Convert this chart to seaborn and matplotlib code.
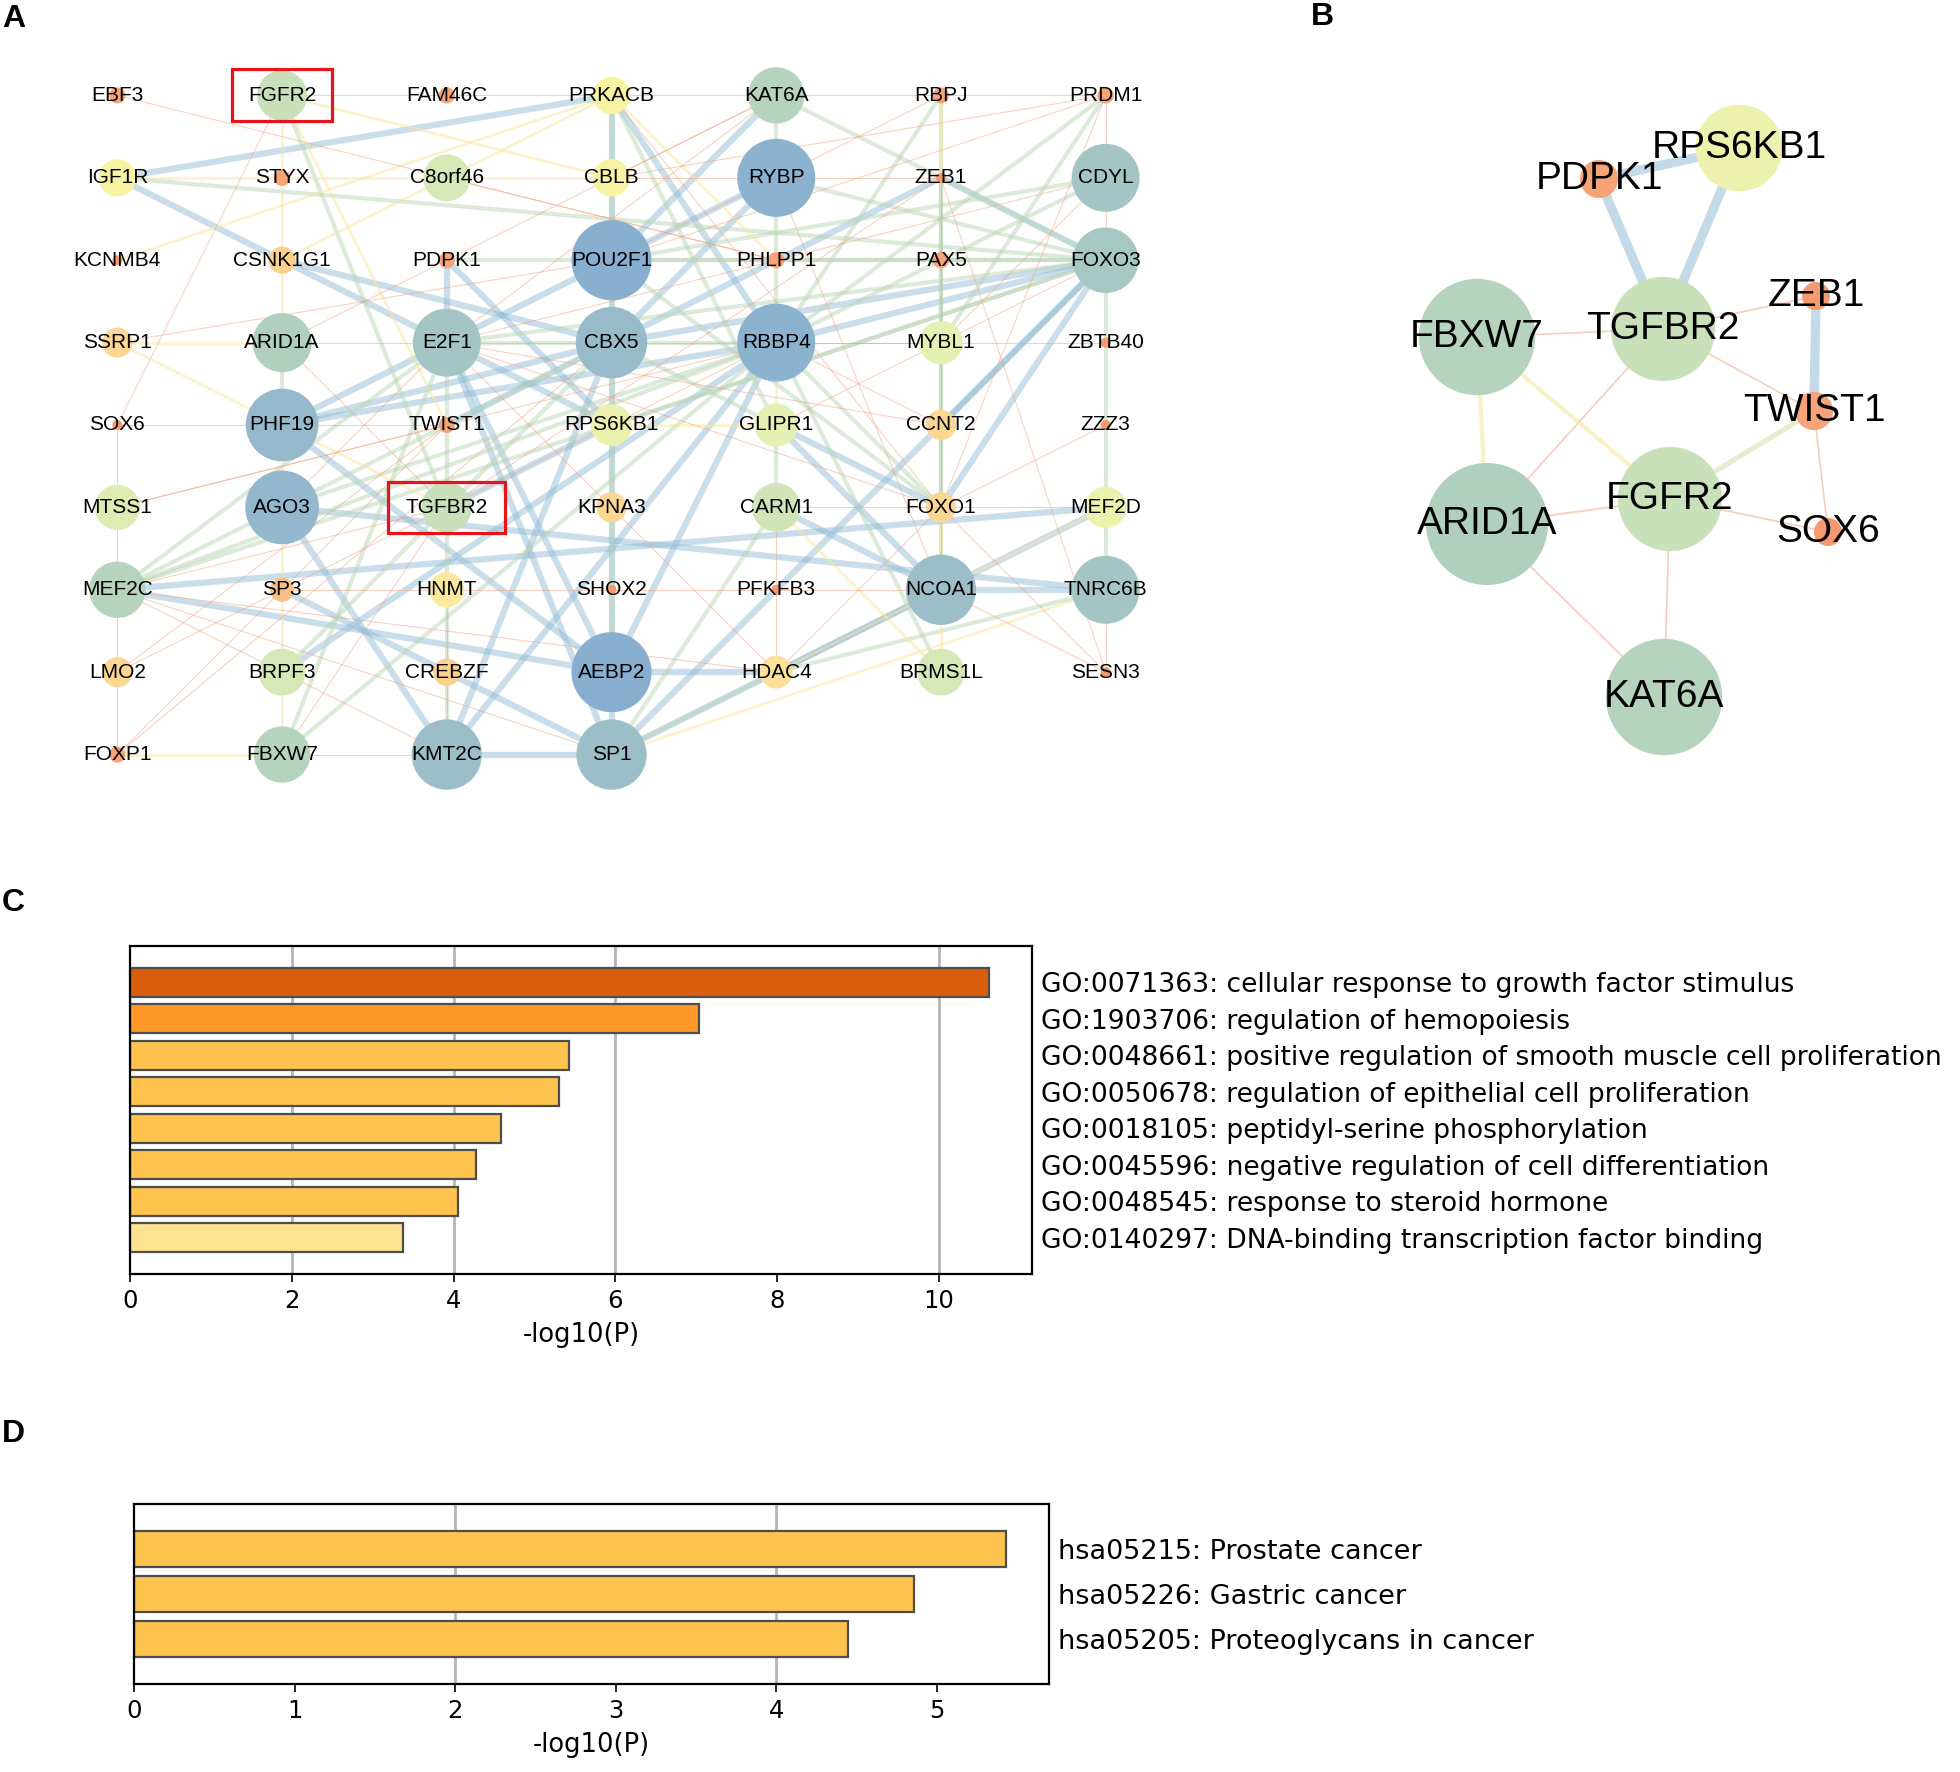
import matplotlib
matplotlib.use("Agg")
import numpy as np
import pandas as pd
import matplotlib.pyplot as plt
import seaborn as sns
from matplotlib.colors import LinearSegmentedColormap
from matplotlib.patches import Rectangle

# ---------------- data ----------------
# panel A: genes laid out row by row on a 7-column grid
genes_a = [
    "EBF3", "FGFR2", "FAM46C", "PRKACB", "KAT6A", "RBPJ", "PRDM1",
    "IGF1R", "STYX", "C8orf46", "CBLB", "RYBP", "ZEB1", "CDYL",
    "KCNMB4", "CSNK1G1", "PDPK1", "POU2F1", "PHLPP1", "PAX5", "FOXO3",
    "SSRP1", "ARID1A", "E2F1", "CBX5", "RBBP4", "MYBL1", "ZBTB40",
    "SOX6", "PHF19", "TWIST1", "RPS6KB1", "GLIPR1", "CCNT2", "ZZZ3",
    "MTSS1", "AGO3", "TGFBR2", "KPNA3", "CARM1", "FOXO1", "MEF2D",
    "MEF2C", "SP3", "HNMT", "SHOX2", "PFKFB3", "NCOA1", "TNRC6B",
    "LMO2", "BRPF3", "CREBZF", "AEBP2", "HDAC4", "BRMS1L", "SESN3",
    "FOXP1", "FBXW7", "KMT2C", "SP1",
]
degree_a = [
    2, 16, 2, 9, 20, 2, 2,
    9, 2, 14, 9, 38, 1, 29,
    1, 5, 2, 40, 2, 2, 27,
    6, 22, 29, 32, 38, 12, 1,
    1, 33, 2, 11, 12, 6, 1,
    13, 34, 16, 6, 15, 6, 11,
    20, 4, 8, 1, 1, 31, 29,
    6, 14, 5, 40, 7, 14, 1,
    2, 20, 31, 31,
]
highlight_a = ["FGFR2", "TGFBR2"]

# interaction score per edge (low = orange/thin, high = blue/thick)
edges_a = [
    ("FGFR2", "FAM46C", .15), ("FAM46C", "PRKACB", .15), ("PRKACB", "KAT6A", .15),
    ("KAT6A", "RBPJ", .15), ("RBPJ", "PRDM1", .15), ("EBF3", "PHLPP1", .15),
    ("IGF1R", "STYX", .4), ("STYX", "C8orf46", .4), ("C8orf46", "CBLB", .4),
    ("CBLB", "RYBP", .15), ("RYBP", "ZEB1", .15),
    ("PDPK1", "POU2F1", .6), ("POU2F1", "PHLPP1", .6), ("PHLPP1", "PAX5", .6), ("PAX5", "FOXO3", .6),
    ("SSRP1", "ARID1A", .4), ("ARID1A", "E2F1", .15), ("E2F1", "CBX5", .6), ("CBX5", "RBBP4", .6),
    ("RBBP4", "MYBL1", .15), ("MYBL1", "ZBTB40", .15),
    ("SOX6", "TWIST1", .15), ("PHF19", "RBBP4", .9), ("PHF19", "CBX5", .9),
    ("CARM1", "FOXO1", .15), ("FOXO1", "MEF2D", .15),
    ("HNMT", "SP3", .15), ("HNMT", "SHOX2", .15), ("FOXP1", "FBXW7", .4), ("FBXW7", "KMT2C", .15),
    ("NCOA1", "TNRC6B", .9),
    ("SOX6", "MTSS1", .15), ("MTSS1", "MEF2C", .15), ("MEF2C", "LMO2", .15), ("LMO2", "FOXP1", .15),
    ("FGFR2", "STYX", .4), ("STYX", "CSNK1G1", .4), ("CSNK1G1", "ARID1A", .4), ("ARID1A", "PHF19", .6),
    ("PHF19", "AGO3", .4), ("AGO3", "SP3", .4), ("SP3", "BRPF3", .4), ("BRPF3", "FBXW7", .4),
    ("PDPK1", "E2F1", .9), ("E2F1", "TWIST1", .6), ("TWIST1", "TGFBR2", .6),
    ("HNMT", "CREBZF", .15), ("CREBZF", "KMT2C", .15),
    ("PRKACB", "CBLB", .6), ("CBLB", "POU2F1", .6), ("POU2F1", "CBX5", .6), ("CBX5", "RPS6KB1", .6),
    ("RPS6KB1", "KPNA3", .6), ("KPNA3", "SHOX2", .6), ("SHOX2", "AEBP2", .6), ("AEBP2", "SP1", .9),
    ("KAT6A", "RYBP", .6), ("RYBP", "PHLPP1", .6), ("PHLPP1", "RBBP4", .6), ("RBBP4", "GLIPR1", .4),
    ("GLIPR1", "CARM1", .6), ("CARM1", "PFKFB3", .15), ("PFKFB3", "HDAC4", .15),
    ("RBPJ", "ZEB1", .4), ("ZEB1", "PAX5", .6), ("PAX5", "MYBL1", .6), ("MYBL1", "CCNT2", .6),
    ("CCNT2", "FOXO1", .6), ("FOXO1", "NCOA1", .15),
    ("PRDM1", "CDYL", .15), ("CDYL", "FOXO3", .15), ("FOXO3", "ZBTB40", .6), ("ZBTB40", "ZZZ3", .6),
    ("ZZZ3", "MEF2D", .6), ("MEF2D", "TNRC6B", .6), ("TNRC6B", "SESN3", .15),
    ("IGF1R", "PRKACB", .9), ("IGF1R", "FOXO3", .6), ("IGF1R", "RPS6KB1", .9), ("KCNMB4", "PRKACB", .4),
    ("FGFR2", "CBLB", .4), ("FGFR2", "TGFBR2", .6), ("FGFR2", "SOX6", .15), ("FGFR2", "TWIST1", .4),
    ("CSNK1G1", "CBX5", .9), ("PDPK1", "RPS6KB1", .9), ("C8orf46", "PHLPP1", .15),
    ("PRKACB", "RBBP4", .9), ("PRKACB", "GLIPR1", .6), ("PRKACB", "CBX5", .9), ("PRKACB", "CSNK1G1", .4),
    ("PRKACB", "FOXO1", .15), ("PRKACB", "PHLPP1", .4),
    ("KAT6A", "POU2F1", .9), ("KAT6A", "CBLB", .15), ("KAT6A", "FOXO3", .6), ("KAT6A", "E2F1", .15),
    ("KAT6A", "ARID1A", .15),
    ("RBPJ", "RBBP4", .6), ("RBPJ", "POU2F1", .15), ("RBPJ", "NCOA1", .6),
    ("PRDM1", "POU2F1", .15), ("PRDM1", "RBBP4", .6), ("PRDM1", "MYBL1", .6), ("PRDM1", "FOXO1", .15),
    ("PRDM1", "CBLB", .15),
    ("RYBP", "FOXO3", .6), ("RYBP", "CBX5", .9), ("RYBP", "E2F1", .9), ("RYBP", "NCOA1", .15),
    ("ZEB1", "FOXO3", .9), ("ZEB1", "TWIST1", .9), ("ZEB1", "TGFBR2", .15), ("ZEB1", "FOXO1", .15),
    ("ZEB1", "SESN3", .15),
    ("FOXO3", "RBBP4", .9), ("FOXO3", "CBX5", .9), ("FOXO3", "POU2F1", .6), ("FOXO3", "RPS6KB1", .6),
    ("FOXO3", "E2F1", .6), ("FOXO3", "FOXO1", .9), ("FOXO3", "MEF2C", .6), ("FOXO3", "SP1", .9),
    ("FOXO3", "GLIPR1", .15),
    ("CDYL", "POU2F1", .6), ("CDYL", "RBBP4", .6), ("CDYL", "E2F1", .15), ("CDYL", "MYBL1", .15),
    ("MEF2C", "AEBP2", .9), ("MEF2C", "MEF2D", .9), ("MEF2C", "RBBP4", .6), ("MEF2C", "E2F1", .6),
    ("MEF2C", "HDAC4", .15), ("MEF2C", "TGFBR2", .15), ("MEF2C", "CBX5", .6),
    ("AGO3", "TNRC6B", .9), ("AGO3", "KMT2C", .9), ("AGO3", "RBBP4", .6), ("AGO3", "E2F1", .15),
    ("CARM1", "NCOA1", .9), ("NCOA1", "MEF2D", .9), ("HDAC4", "NCOA1", .9), ("HDAC4", "TNRC6B", .6),
    ("HDAC4", "AEBP2", .9), ("HDAC4", "SP1", .6), ("HDAC4", "MEF2D", .4), ("HDAC4", "E2F1", .15),
    ("HDAC4", "FOXO1", .15),
    ("FOXO1", "SESN3", .15), ("NCOA1", "SESN3", .15), ("FOXO1", "RBBP4", .6), ("FOXO1", "POU2F1", .6),
    ("FOXO1", "GLIPR1", .9), ("FOXO1", "E2F1", .15), ("FOXO1", "BRMS1L", .4),
    ("GLIPR1", "NCOA1", .9), ("BRMS1L", "RBBP4", .6), ("BRMS1L", "CARM1", .4),
    ("SP1", "NCOA1", .9), ("SP1", "TNRC6B", .4), ("SP1", "KMT2C", .9), ("SP1", "E2F1", .9),
    ("SP1", "SP3", .9), ("SP1", "CARM1", .6), ("SP1", "MEF2C", .15),
    ("KMT2C", "RBBP4", .9), ("KMT2C", "CBX5", .9), ("KMT2C", "TGFBR2", .6), ("KMT2C", "MEF2C", .15),
    ("FBXW7", "E2F1", .6), ("FBXW7", "TGFBR2", .15), ("FBXW7", "RBBP4", .6),
    ("BRPF3", "RBBP4", .9), ("BRPF3", "CBX5", .6),
    ("LMO2", "TWIST1", .15), ("LMO2", "RBBP4", .15), ("FOXP1", "TWIST1", .15), ("FOXP1", "CBX5", .15),
    ("SSRP1", "POU2F1", .15), ("SSRP1", "TGFBR2", .4), ("MTSS1", "RBBP4", .15), ("MTSS1", "TWIST1", .15),
    ("PHF19", "AEBP2", .9), ("PHF19", "E2F1", .9), ("AEBP2", "RBBP4", .9), ("AEBP2", "CBX5", .9),
    ("AEBP2", "E2F1", .9), ("TGFBR2", "RPS6KB1", .9), ("TGFBR2", "ARID1A", .15),
    ("RPS6KB1", "GLIPR1", .4), ("CBX5", "GLIPR1", .6),
    ("SHOX2", "NCOA1", .15), ("CCNT2", "RBBP4", .15), ("CCNT2", "E2F1", .15), ("CCNT2", "FOXO3", .9),
    ("ZZZ3", "FOXO1", .15), ("MYBL1", "E2F1", .15),
]

# panel B: sub-network around TGFBR2 / FGFR2 (layout units = pixels of the panel)
genes_b = ["PDPK1", "RPS6KB1", "TGFBR2", "ZEB1", "FBXW7", "TWIST1", "FGFR2", "SOX6", "ARID1A", "KAT6A"]
layout_bx = [199, 339, 263, 416, 77, 414, 270, 428, 87, 264]
layout_by = [139, 108, 289, 256, 297, 371, 459, 492, 484, 657]
edges_b = [
    ("PDPK1", "RPS6KB1", .9), ("PDPK1", "TGFBR2", .9), ("RPS6KB1", "TGFBR2", .9), ("ZEB1", "TWIST1", .9),
    ("TGFBR2", "ZEB1", .15), ("TGFBR2", "TWIST1", .15), ("FBXW7", "TGFBR2", .15),
    ("FBXW7", "ARID1A", .4), ("FBXW7", "FGFR2", .4), ("TGFBR2", "ARID1A", .15),
    ("TWIST1", "FGFR2", .5), ("TWIST1", "SOX6", .15), ("FGFR2", "SOX6", .15),
    ("ARID1A", "FGFR2", .2), ("ARID1A", "KAT6A", .15), ("FGFR2", "KAT6A", .15),
]

# panel C: GO enrichment
go_terms = [
    "GO:0071363: cellular response to growth factor stimulus",
    "GO:1903706: regulation of hemopoiesis",
    "GO:0048661: positive regulation of smooth muscle cell proliferation",
    "GO:0050678: regulation of epithelial cell proliferation",
    "GO:0018105: peptidyl-serine phosphorylation",
    "GO:0045596: negative regulation of cell differentiation",
    "GO:0048545: response to steroid hormone",
    "GO:0140297: DNA-binding transcription factor binding",
]
go_logp = [10.62, 7.03, 5.43, 5.30, 4.59, 4.28, 4.06, 3.38]
go_colors = ["#D95F0E", "#FE9929", "#FEC44F", "#FEC44F", "#FEC44F", "#FEC44F", "#FEC44F", "#FEE391"]

# panel D: KEGG enrichment
kegg_terms = [
    "hsa05215: Prostate cancer",
    "hsa05226: Gastric cancer",
    "hsa05205: Proteoglycans in cancer",
]
kegg_logp = [5.43, 4.86, 4.45]
kegg_colors = ["#FEC44F", "#FEC44F", "#FEC44F"]

# ---------------- style ----------------
sns.set_theme(style="white")
plt.rcParams["font.family"] = ["DejaVu Sans"]
for key in ["text.color", "axes.labelcolor", "xtick.color", "ytick.color"]:
    plt.rcParams[key] = "black"
NET_FONT = "Liberation Sans"

node_cmap = LinearSegmentedColormap.from_list("deg", [
    (0.00, "#F49A6E"), (0.03, "#F5A57A"), (0.10, "#FCCF8E"), (0.155, "#FDE19A"),
    (0.205, "#F8F3A3"), (0.28, "#E6F0B3"), (0.33, "#D6E8B5"), (0.41, "#C3DDBC"),
    (0.49, "#B5D3BE"), (0.59, "#AACBBF"), (0.72, "#A4C5C4"), (0.80, "#97BACA"),
    (0.95, "#8BB2CF"), (1.00, "#88AFD0"),
])
edge_cmap = LinearSegmentedColormap.from_list("score", [
    (0.0, "#F2A07C"), (0.15, "#F2A07C"), (0.4, "#F9E79C"), (0.6, "#BBD6B5"), (0.9, "#94BDD6"), (1.0, "#94BDD6"),
])

W, H = 1960, 1772
fig = plt.figure(figsize=(W / 100, H / 100), dpi=100)


def box(x0, y0, x1, y1):
    return [x0 / W, 1 - y1 / H, (x1 - x0) / W, (y1 - y0) / H]


# ---------------- panel A ----------------
df_a = pd.DataFrame({"gene": genes_a, "degree": degree_a})
df_a["col"] = np.arange(len(df_a)) % 7
df_a["row"] = np.arange(len(df_a)) // 7
pos_a = {g: (c, r) for g, c, r in zip(df_a.gene, df_a.col, df_a.row)}

ax_a = fig.add_axes(box(35, 46, 1188, 804))
for a, b, w in sorted(edges_a, key=lambda e: -e[2]):
    (xa, ya), (xb, yb) = pos_a[a], pos_a[b]
    ax_a.plot([xa, xb], [ya, yb], color=edge_cmap(w), lw=5.0 * w, alpha=0.5,
              solid_capstyle="butt", zorder=1)
sns.scatterplot(data=df_a, x="col", y="row", hue="degree", size="degree",
                palette=node_cmap, hue_norm=(1, 40), sizes=(52, 3318), size_norm=(1, 40),
                linewidth=0, legend=False, ax=ax_a, zorder=2)
for g, c, r in zip(df_a.gene, df_a.col, df_a.row):
    ax_a.text(c, r, g, ha="center", va="center", fontsize=15, family=NET_FONT, zorder=3)
box_size = {"FGFR2": (0.61, 0.63), "TGFBR2": (0.71, 0.61)}
for g in highlight_a:
    c, r = pos_a[g]
    bw, bh = box_size[g]
    ax_a.add_patch(Rectangle((c - bw / 2, r - bh / 2), bw, bh, fill=False,
                             edgecolor="#E8141B", lw=2.3, zorder=4))
ax_a.set_xlim(-0.5, 6.5)
ax_a.set_ylim(8.6, -0.6)
ax_a.axis("off")

# ---------------- panel B ----------------
deg_lookup = dict(zip(genes_a, degree_a))
df_b = pd.DataFrame({"gene": genes_b, "x": layout_bx, "y": layout_by})
df_b["degree"] = [deg_lookup[g] for g in genes_b]
pos_b = {g: (x, y) for g, x, y in zip(df_b.gene, df_b.x, df_b.y)}

ax_b = fig.add_axes(box(1400, 40, 1960, 790))
for a, b, w in sorted(edges_b, key=lambda e: e[2]):
    (xa, ya), (xb, yb) = pos_b[a], pos_b[b]
    ax_b.plot([xa, xb], [ya, yb], color=edge_cmap(w), lw=7.5 * w, alpha=0.55,
              solid_capstyle="butt", zorder=1)
sns.scatterplot(data=df_b, x="x", y="y", hue="degree", size="degree",
                palette=node_cmap, hue_norm=(1, 40), sizes=(406, 7716), size_norm=(1, 22),
                linewidth=0, legend=False, ax=ax_b, zorder=2)
for g, x, y in zip(df_b.gene, df_b.x, df_b.y):
    ax_b.text(x, y, g, ha="center", va="center", fontsize=28, family=NET_FONT, zorder=3)
ax_b.set_xlim(0, 560)
ax_b.set_ylim(750, 0)
ax_b.axis("off")


# ---------------- panels C & D ----------------
def enrichment_bars(ax, terms, values, colors, xmax, ticks, grid, label_size):
    sns.barplot(x=values, y=terms, hue=terms, palette=dict(zip(terms, colors)), legend=False,
                orient="h", width=0.8, saturation=1, edgecolor="#4d4d4d", linewidth=1.6,
                ax=ax, zorder=2)
    for g in grid:
        ax.axvline(g, color="#b5b5b5", lw=2, zorder=0)
    ax.set_xlim(0, xmax)
    ax.set_ylim(len(terms), -1)
    ax.set_xticks(ticks)
    ax.yaxis.tick_right()
    ax.tick_params(axis="y", length=0, pad=6.5, labelsize=label_size)
    ax.tick_params(axis="x", bottom=True, length=6, width=1.2, color="black",
                   labelsize=17.5, pad=5)
    ax.set_ylabel("")
    ax.set_xlabel("-log10(P)", fontsize=18.5, labelpad=6)
    for s in ax.spines.values():
        s.set_color("black")
        s.set_linewidth(1.6)


ax_c = fig.add_axes(box(130, 946, 1032, 1274))
enrichment_bars(ax_c, go_terms, go_logp, go_colors, 11.15, [0, 2, 4, 6, 8, 10], [2, 4, 6, 10], 19.1)

ax_d = fig.add_axes(box(134, 1504, 1049, 1684))
enrichment_bars(ax_d, kegg_terms, kegg_logp, kegg_colors, 5.70, [0, 1, 2, 3, 4, 5], [2, 4], 19.5)

# panel letters
for letter, x, y in [("A", 2, 19), ("B", 1311, 17), ("C", 2, 903), ("D", 2, 1434)]:
    fig.text(x / W, 1 - y / H, letter, fontsize=23, fontweight="bold", family=NET_FONT,
             ha="left", va="center")

fig.savefig("out.png", dpi=100)
